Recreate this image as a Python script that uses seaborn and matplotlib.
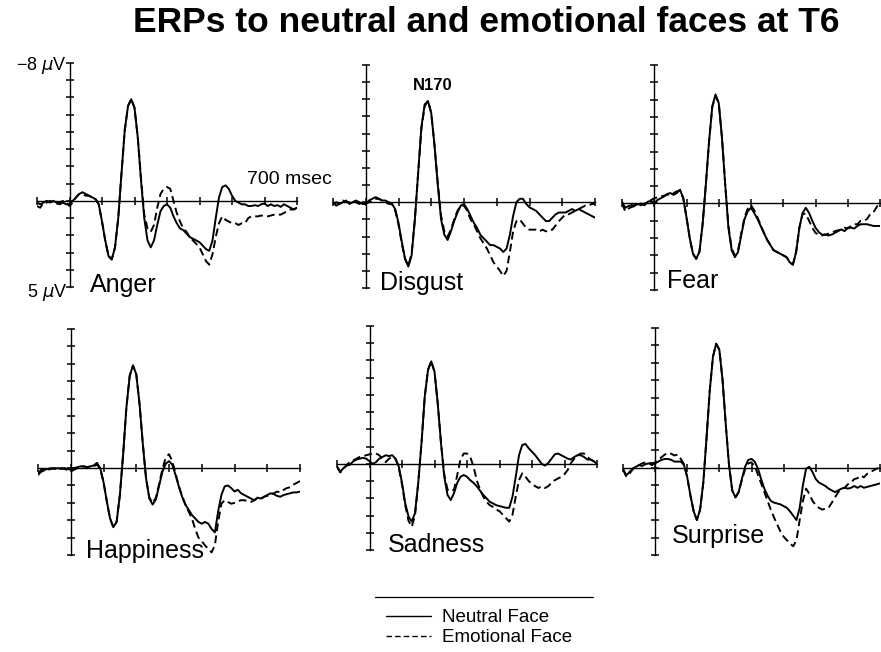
import numpy as np
import pandas as pd
import matplotlib
matplotlib.use("Agg")
import matplotlib.pyplot as plt
from matplotlib.lines import Line2D
from matplotlib import font_manager
import seaborn as sns

# time axis (msec) and ERP amplitudes (microvolts)
times = list(range(-100, 701, 10))

anger_neutral = [0.1, 0.2, 0.1, 0.0, 0.1, 0.0, 0.1, 0.2, 0.1, 0.2,
                 0.2, 0.0, -0.2, -0.4, -0.5, -0.4, -0.3, -0.2, -0.1, 0.2,
                 1.2, 2.3, 3.2, 3.4, 2.7, 1.0, -1.6, -4.1, -5.5, -5.9,
                 -5.4, -3.7, -1.2, 1.0, 2.3, 2.7, 2.3, 1.4, 0.6, 0.3,
                 0.2, 0.4, 0.9, 1.3, 1.6, 1.7, 1.9, 2.1, 2.2, 2.3,
                 2.4, 2.6, 2.8, 2.9, 2.3, 1.0, -0.2, -0.8, -0.9, -0.7,
                 -0.3, 0.0, 0.1, 0.2, 0.2, 0.3, 0.3, 0.25, 0.3, 0.2,
                 0.15, 0.3, 0.2, 0.3, 0.25, 0.35, 0.2, 0.3, 0.4, 0.5, 0.4]
anger_emotional = [0.3, 0.4, 0.1, 0.1, 0.0, 0.1, 0.2, 0.1, 0.0, 0.1,
                   0.3, 0.1, -0.2, -0.4, -0.4, -0.3, -0.3, -0.2, -0.1, 0.2,
                   1.2, 2.3, 3.2, 3.4, 2.7, 1.0, -1.6, -4.1, -5.5, -5.9,
                   -5.4, -3.7, -1.3, 0.8, 1.6, 1.8, 1.4, 0.4, -0.4, -0.7,
                   -0.8, -0.7, 0.0, 0.7, 1.2, 1.6, 1.8, 2.1, 2.3, 2.5,
                   2.7, 3.1, 3.5, 3.7, 3.1, 2.1, 1.3, 0.9, 1.1, 1.2,
                   1.3, 1.3, 1.4, 1.3, 1.3, 1.0, 0.9, 0.9, 0.9, 0.85,
                   0.9, 0.9, 0.85, 0.8, 0.8, 0.8, 0.7, 0.6, 0.5, 0.5, 0.4]

disgust_neutral = [0.0, 0.2, 0.1, 0.0, -0.1, 0.1, 0.0, -0.1, 0.0, 0.1,
                   0.1, -0.1, -0.2, -0.3, -0.2, -0.1, -0.1, 0.0, 0.1, 0.4,
                   1.2, 2.3, 3.3, 3.75, 3.1, 1.0, -1.7, -4.4, -5.7, -5.9,
                   -5.2, -3.3, -1.0, 1.0, 1.9, 2.2, 1.7, 1.1, 0.6, 0.2,
                   0.1, 0.4, 0.8, 1.2, 1.5, 1.9, 2.1, 2.3, 2.5, 2.5,
                   2.6, 2.7, 2.9, 2.7, 1.9, 0.8, 0.0, -0.2, -0.2, 0.1,
                   0.3, 0.4, 0.5, 0.7, 0.9, 1.1, 1.1, 0.9, 0.7, 0.6,
                   0.6, 0.6, 0.5, 0.4, 0.5, 0.4, 0.5, 0.6, 0.7, 0.8, 0.9]
disgust_emotional = [0.1, 0.0, 0.1, -0.1, 0.0, 0.0, -0.1, 0.0, 0.1, 0.0,
                     0.1, 0.0, -0.1, -0.2, -0.2, -0.1, 0.0, 0.1, 0.1, 0.5,
                     1.3, 2.4, 3.3, 3.7, 3.0, 1.0, -1.7, -4.3, -5.6, -5.9,
                     -5.2, -3.3, -1.1, 0.8, 1.7, 2.0, 1.6, 1.0, 0.5, 0.2,
                     0.2, 0.5, 1.0, 1.3, 1.7, 2.1, 2.4, 2.7, 3.1, 3.5,
                     3.75, 4.0, 4.3, 4.0, 2.9, 1.7, 1.1, 1.0, 1.25, 1.5,
                     1.6, 1.6, 1.6, 1.7, 1.6, 1.7, 1.6, 1.6, 1.35, 1.1,
                     0.9, 0.7, 0.7, 0.6, 0.5, 0.4, 0.3, 0.2, 0.2, 0.1, 0.1]

fear_neutral = [-0.1, 0.25, 0.15, 0.1, 0.1, 0.05, 0.0, 0.1, -0.1, -0.15,
                0.0, -0.2, -0.3, -0.4, -0.55, -0.6, -0.5, -0.6, -0.8, -0.3,
                0.8, 2.0, 2.9, 3.2, 2.8, 1.2, -1.1, -3.6, -5.6, -6.3,
                -5.8, -3.8, -1.1, 1.4, 2.7, 3.1, 2.8, 1.8, 0.9, 0.45,
                0.25, 0.55, 0.9, 1.3, 1.7, 2.1, 2.4, 2.7, 2.8, 2.9,
                3.0, 3.1, 3.4, 3.55, 2.8, 1.4, 0.55, 0.25, 0.55, 1.0,
                1.4, 1.65, 1.8, 1.8, 1.85, 1.8, 1.7, 1.6, 1.5, 1.6,
                1.4, 1.4, 1.45, 1.3, 1.2, 1.2, 1.2, 1.25, 1.3, 1.3, 1.3]
fear_emotional = [0.0, 0.45, 0.3, 0.2, 0.15, 0.1, 0.1, 0.0, -0.05, -0.2,
                  -0.3, -0.35, -0.4, -0.45, -0.5, -0.55, -0.6, -0.7, -0.75, -0.3,
                  0.8, 2.0, 2.9, 3.2, 2.8, 1.2, -1.1, -3.6, -5.6, -6.2,
                  -5.8, -3.8, -1.1, 1.3, 2.6, 3.0, 2.7, 1.7, 0.8, 0.3,
                  0.1, 0.4, 0.8, 1.25, 1.7, 2.1, 2.4, 2.7, 2.8, 2.9,
                  3.0, 3.1, 3.35, 3.5, 2.8, 1.4, 0.6, 0.6, 1.0, 1.4,
                  1.7, 1.8, 1.85, 1.8, 1.75, 1.7, 1.6, 1.55, 1.5, 1.4,
                  1.45, 1.3, 1.2, 1.2, 1.0, 1.0, 0.9, 0.6, 0.5, 0.2, -0.1]

happiness_neutral = [0.3, 0.1, 0.1, 0.05, 0.0, 0.05, 0.0, 0.05, 0.0, 0.05,
                     0.1, 0.0, -0.05, -0.1, -0.1, -0.05, -0.1, -0.15, -0.3, 0.0,
                     0.8, 1.9, 2.9, 3.4, 3.1, 1.55, -0.8, -3.5, -5.3, -5.9,
                     -5.4, -3.7, -1.4, 0.6, 1.75, 2.1, 1.8, 1.0, 0.2, -0.25,
                     -0.4, -0.2, 0.4, 1.05, 1.65, 2.1, 2.4, 2.7, 2.9, 3.1,
                     3.2, 3.1, 3.2, 3.5, 3.7, 2.5, 1.55, 1.05, 1.0, 1.15,
                     1.35, 1.25, 1.45, 1.55, 1.65, 1.75, 1.85, 1.7, 1.75, 1.65,
                     1.55, 1.45, 1.5, 1.6, 1.65, 1.55, 1.5, 1.45, 1.4, 1.4, 1.35]
happiness_emotional = [0.4, 0.2, 0.15, 0.1, 0.05, 0.0, 0.05, 0.0, 0.05, 0.1,
                       0.2, 0.1, 0.0, -0.05, -0.1, -0.05, -0.1, -0.1, -0.2, 0.05,
                       0.8, 1.9, 2.9, 3.4, 3.1, 1.55, -0.8, -3.5, -5.3, -5.9,
                       -5.4, -3.7, -1.4, 0.6, 1.7, 2.0, 1.7, 0.9, 0.05, -0.6,
                       -0.8, -0.4, 0.3, 1.05, 1.6, 2.1, 2.5, 2.9, 3.5, 4.0,
                       4.2, 4.45, 4.65, 4.85, 4.45, 3.1, 2.05, 1.85, 1.95, 2.05,
                       2.0, 1.9, 1.85, 1.85, 1.9, 1.95, 1.85, 1.75, 1.8, 1.65,
                       1.6, 1.5, 1.45, 1.35, 1.4, 1.25, 1.15, 1.1, 0.95, 0.85, 0.75]

sadness_neutral = [0.15, 0.45, 0.25, 0.1, 0.05, -0.15, -0.25, -0.3, -0.35, -0.3,
                   -0.15, 0.0, -0.1, -0.3, -0.4, -0.5, -0.45, -0.5, -0.3, 0.15,
                   1.1, 2.3, 3.05, 3.35, 2.85, 1.1, -1.2, -3.9, -5.45, -5.95,
                   -5.35, -3.5, -1.2, 0.75, 1.8, 2.1, 1.7, 1.1, 0.75, 0.65,
                   0.75, 0.95, 1.1, 1.3, 1.55, 1.8, 2.0, 2.2, 2.3, 2.4,
                   2.45, 2.5, 2.55, 2.55, 1.9, 0.75, -0.5, -1.1, -1.15, -0.9,
                   -0.7, -0.5, -0.25, 0.0, 0.1, -0.05, -0.3, -0.55, -0.6, -0.5,
                   -0.4, -0.3, -0.25, -0.4, -0.5, -0.5, -0.4, -0.25, -0.25, -0.15, 0.0]
sadness_emotional = [0.2, 0.5, 0.3, 0.05, -0.1, -0.2, -0.3, -0.4, -0.45, -0.5,
                     -0.55, -0.6, -0.6, -0.5, -0.3, -0.1, -0.3, -0.4, -0.3, 0.2,
                     1.2, 2.4, 3.3, 3.65, 3.0, 1.1, -1.2, -3.9, -5.45, -5.95,
                     -5.35, -3.5, -1.2, 0.6, 1.5, 1.6, 1.5, 0.65, -0.25, -0.6,
                     -0.6, -0.4, 0.15, 0.95, 1.5, 1.9, 2.2, 2.4, 2.5, 2.65,
                     2.75, 2.95, 3.15, 3.35, 2.95, 1.9, 0.95, 0.55, 0.75, 1.0,
                     1.15, 1.3, 1.4, 1.3, 1.4, 1.3, 1.1, 0.95, 0.85, 0.75,
                     0.6, 0.35, -0.05, -0.3, -0.5, -0.6, -0.6, -0.4, -0.25, -0.15, 0.0]

surprise_neutral = [0.05, 0.45, 0.25, 0.05, -0.05, -0.15, -0.1, -0.2, -0.25, -0.15,
                    -0.25, -0.35, -0.45, -0.5, -0.5, -0.45, -0.35, -0.35, -0.35, -0.15,
                    0.55, 1.6, 2.5, 3.0, 2.4, 0.85, -1.7, -4.4, -6.35, -7.1,
                    -6.75, -5.0, -2.45, -0.15, 1.3, 1.7, 1.4, 0.65, -0.05, -0.45,
                    -0.5, -0.35, 0.05, 0.65, 1.2, 1.6, 1.9, 2.0, 2.05, 2.1,
                    2.2, 2.3, 2.5, 2.75, 3.0, 2.3, 1.0, 0.05, -0.05, 0.25,
                    0.65, 0.85, 0.95, 1.05, 1.2, 1.3, 1.4, 1.3, 1.2, 1.15,
                    1.2, 1.15, 1.05, 1.15, 1.05, 1.15, 1.1, 1.05, 1.0, 0.95, 0.9]
surprise_emotional = [0.1, 0.5, 0.35, 0.1, -0.05, -0.15, -0.25, -0.3, -0.3, -0.25,
                      -0.3, -0.45, -0.6, -0.75, -0.85, -0.8, -0.7, -0.75, -0.5, -0.2,
                      0.55, 1.6, 2.5, 3.0, 2.4, 0.85, -1.7, -4.4, -6.35, -7.1,
                      -6.75, -5.0, -2.45, -0.15, 1.3, 1.7, 1.4, 0.7, 0.1, -0.25,
                      -0.3, -0.1, 0.4, 0.9, 1.4, 1.9, 2.4, 2.85, 3.25, 3.65,
                      3.95, 4.15, 4.35, 4.5, 4.15, 3.0, 1.9, 1.2, 1.5, 1.9,
                      2.15, 2.3, 2.4, 2.35, 2.3, 2.0, 1.7, 1.4, 1.2, 1.15,
                      0.95, 0.85, 0.65, 0.6, 0.45, 0.55, 0.35, 0.25, 0.15, 0.05, 0.0]

emotions = ["Anger", "Disgust", "Fear", "Happiness", "Sadness", "Surprise"]
neutral = [anger_neutral, disgust_neutral, fear_neutral,
           happiness_neutral, sadness_neutral, surprise_neutral]
emotional = [anger_emotional, disgust_emotional, fear_emotional,
             happiness_emotional, sadness_emotional, surprise_emotional]

# panel boxes in pixels: left (-100 ms), right (700 ms), top (-8 uV), bottom (5 uV)
W, H = 881, 652
boxes = [(37, 297, 63, 287), (333, 595, 65, 288), (622, 880, 65, 290),
         (38, 300, 329, 555), (337, 597, 326, 550), (623, 880, 328, 555)]
# panel name position (left x, baseline y) in pixels
name_pos = [(90, 292), (380, 290), (667, 288), (86, 558), (388, 552), (672, 543)]

sns.set_style("white", rc={"text.color": "black", "axes.edgecolor": "black",
                           "xtick.color": "black", "ytick.color": "black",
                           "xtick.bottom": True, "ytick.left": True})
names = {f.name for f in font_manager.fontManager.ttflist}
plt.rcParams["font.family"] = ["Liberation Sans", "DejaVu Sans"]
title_family = "Liberation Sans Narrow" if "Liberation Sans Narrow" in names else "Liberation Sans"
title_size = 22 if title_family == "Liberation Sans Narrow" else 25.5

fig = plt.figure(figsize=(W / 100, H / 100), dpi=100)

for i, emo in enumerate(emotions):
    l, r, t, b = boxes[i]
    ax = fig.add_axes([l / W, 1 - b / H, (r - l) / W, (b - t) / H])
    df = pd.DataFrame({
        "time": times * 2,
        "uV": emotional[i] + neutral[i],
        "face": ["Emotional Face"] * len(times) + ["Neutral Face"] * len(times),
    })
    sns.lineplot(data=df, x="time", y="uV", style="face", color="black",
                 dashes={"Neutral Face": "", "Emotional Face": (4, 2.2)},
                 estimator=None, sort=False, linewidth=1.4, legend=False, ax=ax)
    ax.set_xlim(-100, 700)
    ax.set_ylim(5, -8)
    ax.patch.set_alpha(0)
    for side in ["top", "right"]:
        ax.spines[side].set_visible(False)
    ax.spines["left"].set_position(("data", 0))
    ax.spines["bottom"].set_position(("data", 0))
    ax.spines["left"].set_linewidth(1.0)
    ax.spines["bottom"].set_linewidth(1.0)
    ax.set_yticks(range(-8, 6))
    ax.set_xticks(range(-100, 701, 100))
    ax.set_xticklabels([])
    ax.set_yticklabels([])
    ax.tick_params(axis="both", direction="inout", length=5.5, width=1.1,
                   color="black", bottom=True, left=True)
    ax.set_xlabel("")
    ax.set_ylabel("")
    x0, y0 = name_pos[i]
    fig.text(x0 / W, 1 - y0 / H, emo, fontsize=18, va="baseline", ha="left")

fig.text(486 / W, 1 - 22 / H, "ERPs to neutral and emotional faces at T6",
         fontsize=title_size, fontweight="bold", family=title_family, ha="center", va="center")
fig.text(67 / W, 1 - 65 / H, "\u22128 $\\mu$V", fontsize=13, ha="right", va="center")
fig.text(67 / W, 1 - 292 / H, "5 $\\mu$V", fontsize=13, ha="right", va="center")
fig.text(247 / W, 1 - 180 / H, "700 msec", fontsize=14, ha="left", va="center")
fig.text(433 / W, 1 - 86 / H, "N170", fontsize=12, fontweight="bold", ha="center", va="center")

# legend block under the panels
fig.add_artist(Line2D([375 / W, 593 / W], [1 - 597 / H, 1 - 597 / H],
                      transform=fig.transFigure, color="black", linewidth=0.9))
handles = [Line2D([], [], color="black", linewidth=1.0),
           Line2D([], [], color="black", linewidth=1.0, dashes=(4, 2.2))]
fig.legend(handles, ["Neutral Face", "Emotional Face"], loc="upper left",
           bbox_to_anchor=(386 / W, 1 - 609 / H), frameon=False, fontsize=13.5,
           handlelength=2.4, handletextpad=0.6, labelspacing=0.15,
           borderpad=0, borderaxespad=0)

fig.savefig("out.png", dpi=100)
